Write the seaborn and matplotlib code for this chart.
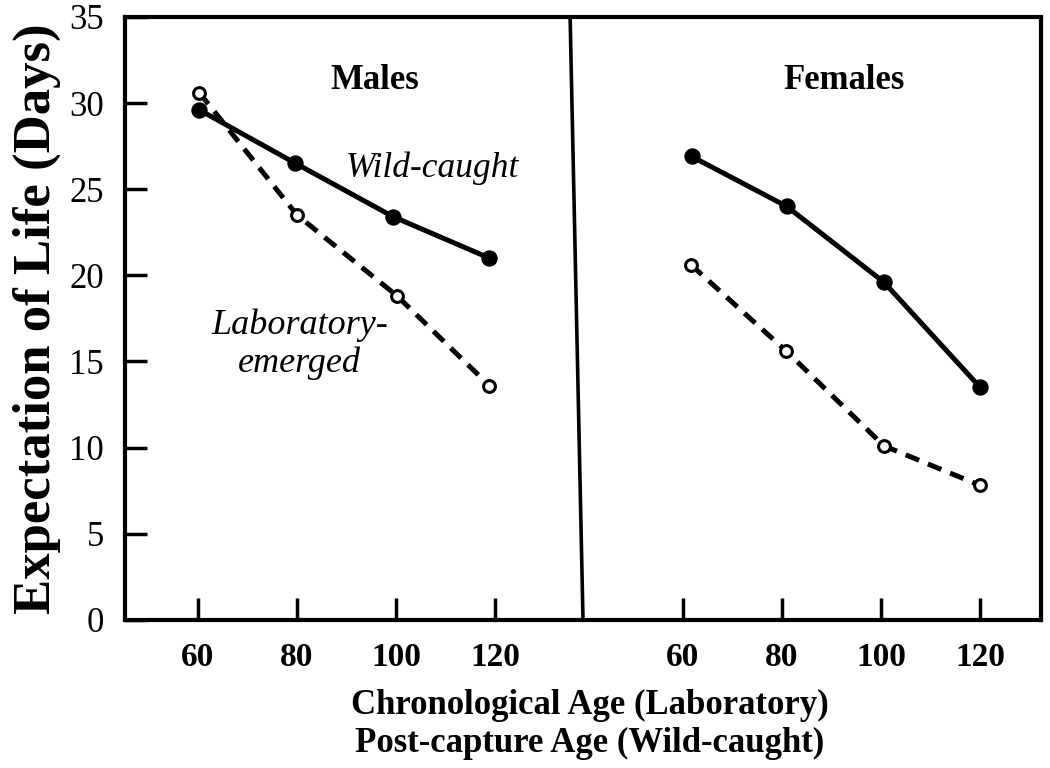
import numpy as np
import pandas as pd
import matplotlib
matplotlib.use("Agg")
import matplotlib.pyplot as plt
import seaborn as sns

# === data ===
age_ticks = [60, 80, 100, 120]
female_shift = 97.8  # female panel sits to the right of the male panel

male_wild_age = [60.3, 79.7, 99.4, 118.8]
male_wild_life = [29.6, 26.5, 23.4, 21.0]
male_lab_age = [60.3, 80.0, 100.2, 118.8]
male_lab_life = [30.6, 23.5, 18.8, 13.6]

female_wild_age = [61.8, 81.0, 100.6, 120.0]
female_wild_life = [26.9, 24.0, 19.6, 13.5]
female_lab_age = [61.7, 80.9, 100.6, 120.0]
female_lab_life = [20.6, 15.6, 10.1, 7.8]

sns.set_style("ticks")
plt.rcParams['font.family'] = ['Liberation Serif', 'DejaVu Serif']
plt.rcParams['text.color'] = 'black'
plt.rcParams['axes.labelcolor'] = 'black'
plt.rcParams['xtick.color'] = 'black'
plt.rcParams['ytick.color'] = 'black'

fig = plt.figure(figsize=(10.5, 7.68), dpi=100)
ax = fig.add_axes([0.119, 0.193, 0.872, 0.785])

solid = dict(color='black', lw=3.6, marker='o', markersize=11,
             markerfacecolor='black', markeredgecolor='black', zorder=3)
dashed = dict(color='black', lw=3.6, linestyle=(0, (2.9, 1.9)), marker='o',
              markersize=8.5, markerfacecolor='white', markeredgecolor='black',
              markeredgewidth=2.2, zorder=4)

# males
sns.lineplot(x=male_wild_age, y=male_wild_life, ax=ax, **solid)
sns.lineplot(x=male_lab_age, y=male_lab_life, ax=ax, **dashed)
# females (shifted onto the right half)
sns.lineplot(x=np.array(female_wild_age) + female_shift, y=female_wild_life, ax=ax, **solid)
sns.lineplot(x=np.array(female_lab_age) + female_shift, y=female_lab_life, ax=ax, **dashed)

# slanted divider between the two panels
ax.plot([137.7, 135.1], [0, 35], color='black', lw=2.6, clip_on=False, zorder=2)

ax.set_xlim(45.3, 230.0)
ax.set_ylim(0, 35)
ax.set_yticks(range(0, 36, 5))
xt = age_ticks + [a + female_shift for a in age_ticks]
ax.set_xticks(xt)
ax.set_xticklabels([str(a) for a in age_ticks] * 2, fontweight='bold', fontsize=24)
ax.tick_params(axis='y', direction='in', length=16, width=2.5, labelsize=25, pad=15)
ax.tick_params(axis='x', direction='in', length=16, width=2.5, pad=16)

for s in ax.spines.values():
    s.set_linewidth(3)
    s.set_color('black')

ax.set_xlabel("")
ax.set_ylabel("Expectation of Life (Days)", fontsize=38, fontweight='bold', labelpad=6)

ax.text(95.7, 31.3, "Males", fontsize=25, fontweight='bold', ha='center', va='center')
ax.text(190.3, 31.3, "Females", fontsize=25, fontweight='bold', ha='center', va='center')
ax.text(107.4, 26.2, "Wild-caught", fontsize=25.5, style='italic', ha='center', va='center')
ax.text(80.5, 16.0, "Laboratory-\nemerged", fontsize=26, style='italic',
        ha='center', va='center', linespacing=1.15)

fig.text(590 / 1050, 1 - 705 / 768, "Chronological Age (Laboratory)", fontsize=25,
         fontweight='bold', ha='center', va='center')
fig.text(590 / 1050, 1 - 743 / 768, "Post-capture Age (Wild-caught)", fontsize=25,
         fontweight='bold', ha='center', va='center')

fig.savefig("out.png", dpi=100)
